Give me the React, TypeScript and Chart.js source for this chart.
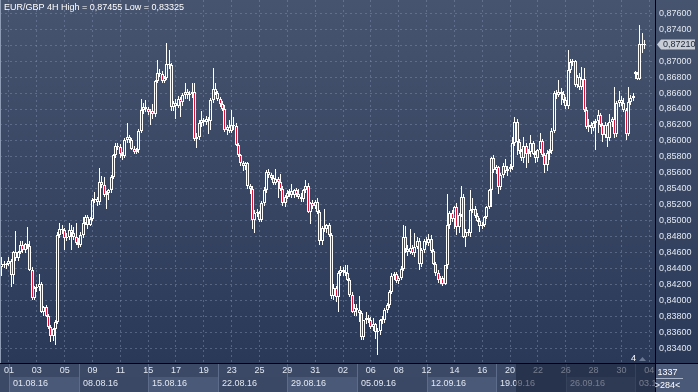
import React, { useEffect, useRef } from "react";
import { Chart, registerables } from "chart.js";

Chart.register(...registerables);

// ---- Candle data (EUR/GBP, 4H bars) ----
const opens = [
  0.8442, 0.8446, 0.8445, 0.8446, 0.8450, 0.8432, 0.8461, 0.8453, 0.8461, 0.8470,
  0.8463, 0.8471, 0.8468, 0.8438, 0.8403, 0.8416, 0.8417, 0.8420, 0.8386, 0.8392,
  0.8381, 0.8367, 0.8355, 0.8364, 0.8373, 0.8482, 0.8490, 0.8488, 0.8478, 0.8480,
  0.8488, 0.8485, 0.8479, 0.8472, 0.8469, 0.8482, 0.8497, 0.8504, 0.8495, 0.8502,
  0.8526, 0.8527, 0.8524, 0.8549, 0.8545, 0.8532, 0.8535, 0.8538, 0.8555, 0.8582,
  0.8594, 0.8592, 0.8583, 0.8581, 0.8601, 0.8605, 0.8601, 0.8590, 0.8586, 0.8589,
  0.8613, 0.8639, 0.8643, 0.8640, 0.8636, 0.8638, 0.8634, 0.8675, 0.8685, 0.8684,
  0.8675, 0.8679, 0.8697, 0.8695, 0.8643, 0.8647, 0.8644, 0.8652, 0.8649, 0.8658,
  0.8661, 0.8657, 0.8659, 0.8661, 0.8602, 0.8605, 0.8622, 0.8626, 0.8624, 0.8627,
  0.8625, 0.8651, 0.8665, 0.8660, 0.8652, 0.8646, 0.8640, 0.8614, 0.8618, 0.8613,
  0.8620, 0.8619, 0.8595, 0.8582, 0.8572, 0.8569, 0.8572, 0.8543, 0.8540, 0.8501,
  0.8510, 0.8509, 0.8501, 0.8522, 0.8538, 0.8561, 0.8557, 0.8553, 0.8547, 0.8552,
  0.8549, 0.8540, 0.8522, 0.8530, 0.8535, 0.8537, 0.8532, 0.8538, 0.8533, 0.8530,
  0.8527, 0.8538, 0.8544, 0.8511, 0.8522, 0.8518, 0.8524, 0.8511, 0.8474, 0.8491,
  0.8489, 0.8494, 0.8482, 0.8405, 0.8415, 0.8404, 0.8434, 0.8438, 0.8436, 0.8434,
  0.8426, 0.8407, 0.8386, 0.8391, 0.8388, 0.8384, 0.8354, 0.8375, 0.8378, 0.8376,
  0.8367, 0.8370, 0.8360, 0.8362, 0.8375, 0.8376, 0.8388, 0.8394, 0.8411, 0.8431,
  0.8433, 0.8424, 0.8428, 0.8440, 0.8480, 0.8465, 0.8461, 0.8466, 0.8460, 0.8467,
  0.8474, 0.8446, 0.8463, 0.8475, 0.8472, 0.8477, 0.8462, 0.8446, 0.8434, 0.8425,
  0.8428, 0.8421, 0.8444, 0.8494, 0.8510, 0.8502, 0.8517, 0.8492, 0.8507, 0.8530,
  0.8480, 0.8486, 0.8484, 0.8513, 0.8515, 0.8506, 0.8500, 0.8493, 0.8495, 0.8504,
  0.8517, 0.8538, 0.8578, 0.8563, 0.8567, 0.8542, 0.8557, 0.8569, 0.8562, 0.8565,
  0.8567, 0.8597, 0.8624, 0.8599, 0.8587, 0.8578, 0.8594, 0.8583, 0.8586, 0.8597,
  0.8584, 0.8578, 0.8588, 0.8600, 0.8582, 0.8570, 0.8585, 0.8587, 0.8613, 0.8660,
  0.8658, 0.8661, 0.8659, 0.8651, 0.8644, 0.8689, 0.8699, 0.8700, 0.8670, 0.8680,
  0.8667, 0.8678, 0.8639, 0.8618, 0.8620, 0.8616, 0.8622, 0.8625, 0.8632, 0.8620,
  0.8608, 0.8620, 0.8604, 0.8624, 0.8627, 0.8609, 0.8647, 0.8651, 0.8647, 0.8639,
  0.8609, 0.8649, 0.8654, 0.8686, 0.8684, 0.8678, 0.8722, 0.8720,
];

const highs = [
  0.8455, 0.8450, 0.8447, 0.8454, 0.8452, 0.8462, 0.8487, 0.8462, 0.8475, 0.8474,
  0.8472, 0.8492, 0.8474, 0.8442, 0.8418, 0.8420, 0.8433, 0.8423, 0.8393, 0.8394,
  0.8383, 0.8369, 0.8366, 0.8376, 0.8486, 0.8497, 0.8494, 0.8491, 0.8484, 0.8497,
  0.8494, 0.8492, 0.8497, 0.8478, 0.8486, 0.8505, 0.8507, 0.8507, 0.8504, 0.8528,
  0.8536, 0.8530, 0.8566, 0.8556, 0.8555, 0.8537, 0.8540, 0.8557, 0.8583, 0.8597,
  0.8598, 0.8596, 0.8586, 0.8604, 0.8622, 0.8607, 0.8604, 0.8593, 0.8591, 0.8615,
  0.8652, 0.8648, 0.8651, 0.8643, 0.8640, 0.8646, 0.8677, 0.8702, 0.8690, 0.8688,
  0.8681, 0.8723, 0.8714, 0.8698, 0.8650, 0.8652, 0.8656, 0.8655, 0.8660, 0.8672,
  0.8665, 0.8662, 0.8672, 0.8672, 0.8610, 0.8626, 0.8637, 0.8629, 0.8631, 0.8630,
  0.8654, 0.8691, 0.8672, 0.8663, 0.8655, 0.8650, 0.8645, 0.8620, 0.8626, 0.8639,
  0.8630, 0.8623, 0.8598, 0.8584, 0.8575, 0.8574, 0.8573, 0.8546, 0.8543, 0.8513,
  0.8514, 0.8512, 0.8525, 0.8542, 0.8563, 0.8565, 0.8560, 0.8557, 0.8565, 0.8555,
  0.8558, 0.8543, 0.8532, 0.8538, 0.8540, 0.8546, 0.8540, 0.8541, 0.8540, 0.8535,
  0.8540, 0.8551, 0.8547, 0.8524, 0.8526, 0.8526, 0.8528, 0.8513, 0.8493, 0.8514,
  0.8496, 0.8497, 0.8485, 0.8420, 0.8418, 0.8437, 0.8443, 0.8442, 0.8444, 0.8444,
  0.8428, 0.8410, 0.8396, 0.8395, 0.8405, 0.8387, 0.8376, 0.8386, 0.8382, 0.8379,
  0.8378, 0.8372, 0.8365, 0.8377, 0.8380, 0.8391, 0.8397, 0.8413, 0.8434, 0.8436,
  0.8436, 0.8430, 0.8443, 0.8494, 0.8493, 0.8470, 0.8489, 0.8469, 0.8485, 0.8480,
  0.8478, 0.8466, 0.8477, 0.8479, 0.8483, 0.8482, 0.8465, 0.8448, 0.8438, 0.8430,
  0.8431, 0.8445, 0.8534, 0.8512, 0.8513, 0.8519, 0.8522, 0.8510, 0.8543, 0.8533,
  0.8489, 0.8490, 0.8538, 0.8528, 0.8519, 0.8509, 0.8503, 0.8498, 0.8506, 0.8518,
  0.8540, 0.8580, 0.8582, 0.8570, 0.8569, 0.8560, 0.8572, 0.8577, 0.8568, 0.8571,
  0.8605, 0.8630, 0.8627, 0.8602, 0.8590, 0.8605, 0.8598, 0.8590, 0.8608, 0.8600,
  0.8587, 0.8590, 0.8610, 0.8603, 0.8585, 0.8588, 0.8590, 0.8616, 0.8662, 0.8664,
  0.8677, 0.8666, 0.8663, 0.8655, 0.8714, 0.8703, 0.8703, 0.8702, 0.8683, 0.8685,
  0.8693, 0.8691, 0.8642, 0.8627, 0.8624, 0.8625, 0.8628, 0.8639, 0.8635, 0.8623,
  0.8624, 0.8622, 0.8634, 0.8630, 0.8668, 0.8650, 0.8662, 0.8656, 0.8654, 0.8641,
  0.8668, 0.8657, 0.8660, 0.8688, 0.8686, 0.8745, 0.8735, 0.8726,
];

const lows = [
  0.8430, 0.8441, 0.8440, 0.8443, 0.8417, 0.8420, 0.8450, 0.8450, 0.8458, 0.8460,
  0.8460, 0.8464, 0.8437, 0.8400, 0.8400, 0.8410, 0.8412, 0.8384, 0.8381, 0.8379,
  0.8364, 0.8348, 0.8349, 0.8344, 0.8370, 0.8478, 0.8483, 0.8463, 0.8474, 0.8476,
  0.8463, 0.8476, 0.8470, 0.8466, 0.8467, 0.8478, 0.8494, 0.8490, 0.8493, 0.8500,
  0.8522, 0.8519, 0.8520, 0.8541, 0.8530, 0.8515, 0.8526, 0.8535, 0.8552, 0.8578,
  0.8588, 0.8578, 0.8576, 0.8579, 0.8598, 0.8598, 0.8589, 0.8584, 0.8583, 0.8585,
  0.8610, 0.8634, 0.8636, 0.8632, 0.8620, 0.8628, 0.8630, 0.8672, 0.8680, 0.8673,
  0.8672, 0.8676, 0.8690, 0.8638, 0.8638, 0.8628, 0.8641, 0.8630, 0.8644, 0.8652,
  0.8652, 0.8650, 0.8654, 0.8600, 0.8591, 0.8601, 0.8618, 0.8619, 0.8620, 0.8609,
  0.8614, 0.8647, 0.8657, 0.8650, 0.8643, 0.8638, 0.8611, 0.8608, 0.8610, 0.8610,
  0.8614, 0.8593, 0.8580, 0.8568, 0.8562, 0.8564, 0.8540, 0.8533, 0.8490, 0.8484,
  0.8505, 0.8498, 0.8498, 0.8518, 0.8535, 0.8553, 0.8551, 0.8545, 0.8545, 0.8528,
  0.8537, 0.8519, 0.8517, 0.8527, 0.8530, 0.8529, 0.8528, 0.8530, 0.8527, 0.8524,
  0.8524, 0.8535, 0.8510, 0.8496, 0.8515, 0.8514, 0.8508, 0.8470, 0.8470, 0.8486,
  0.8484, 0.8480, 0.8402, 0.8400, 0.8398, 0.8386, 0.8430, 0.8431, 0.8430, 0.8424,
  0.8404, 0.8384, 0.8380, 0.8381, 0.8373, 0.8350, 0.8350, 0.8370, 0.8372, 0.8364,
  0.8362, 0.8352, 0.8332, 0.8356, 0.8370, 0.8372, 0.8384, 0.8390, 0.8408, 0.8425,
  0.8422, 0.8420, 0.8425, 0.8437, 0.8460, 0.8456, 0.8458, 0.8457, 0.8455, 0.8464,
  0.8438, 0.8442, 0.8460, 0.8470, 0.8468, 0.8460, 0.8444, 0.8430, 0.8422, 0.8420,
  0.8418, 0.8419, 0.8440, 0.8490, 0.8498, 0.8490, 0.8482, 0.8484, 0.8505, 0.8478,
  0.8467, 0.8481, 0.8480, 0.8510, 0.8503, 0.8498, 0.8486, 0.8489, 0.8492, 0.8502,
  0.8515, 0.8517, 0.8560, 0.8558, 0.8534, 0.8538, 0.8554, 0.8560, 0.8556, 0.8561,
  0.8564, 0.8594, 0.8582, 0.8584, 0.8575, 0.8572, 0.8566, 0.8572, 0.8580, 0.8582,
  0.8572, 0.8574, 0.8585, 0.8580, 0.8560, 0.8562, 0.8576, 0.8583, 0.8610, 0.8652,
  0.8655, 0.8645, 0.8648, 0.8640, 0.8640, 0.8685, 0.8694, 0.8668, 0.8666, 0.8664,
  0.8664, 0.8636, 0.8615, 0.8611, 0.8609, 0.8612, 0.8588, 0.8610, 0.8618, 0.8599,
  0.8604, 0.8592, 0.8600, 0.8618, 0.8604, 0.8605, 0.8642, 0.8644, 0.8636, 0.8601,
  0.8606, 0.8645, 0.8650, 0.8678, 0.8676, 0.8676, 0.8710, 0.8715,
];

const closes = [
  0.8446, 0.8445, 0.8446, 0.8450, 0.8432, 0.8461, 0.8453, 0.8461, 0.8470, 0.8463,
  0.8471, 0.8468, 0.8438, 0.8403, 0.8416, 0.8417, 0.8420, 0.8386, 0.8392, 0.8381,
  0.8367, 0.8355, 0.8364, 0.8373, 0.8482, 0.8490, 0.8488, 0.8478, 0.8480, 0.8488,
  0.8485, 0.8479, 0.8472, 0.8469, 0.8482, 0.8497, 0.8504, 0.8495, 0.8502, 0.8526,
  0.8527, 0.8524, 0.8549, 0.8545, 0.8532, 0.8535, 0.8538, 0.8555, 0.8582, 0.8594,
  0.8592, 0.8583, 0.8581, 0.8601, 0.8605, 0.8601, 0.8590, 0.8586, 0.8589, 0.8613,
  0.8639, 0.8643, 0.8640, 0.8636, 0.8638, 0.8634, 0.8675, 0.8685, 0.8684, 0.8675,
  0.8679, 0.8697, 0.8695, 0.8643, 0.8647, 0.8644, 0.8652, 0.8649, 0.8658, 0.8661,
  0.8657, 0.8659, 0.8661, 0.8602, 0.8605, 0.8622, 0.8626, 0.8624, 0.8627, 0.8625,
  0.8651, 0.8665, 0.8660, 0.8652, 0.8646, 0.8640, 0.8614, 0.8618, 0.8613, 0.8620,
  0.8619, 0.8595, 0.8582, 0.8572, 0.8569, 0.8572, 0.8543, 0.8540, 0.8501, 0.8510,
  0.8509, 0.8501, 0.8522, 0.8538, 0.8561, 0.8557, 0.8553, 0.8547, 0.8552, 0.8549,
  0.8540, 0.8522, 0.8530, 0.8535, 0.8537, 0.8532, 0.8538, 0.8533, 0.8530, 0.8527,
  0.8538, 0.8544, 0.8511, 0.8522, 0.8518, 0.8524, 0.8511, 0.8474, 0.8491, 0.8489,
  0.8494, 0.8482, 0.8405, 0.8415, 0.8404, 0.8434, 0.8438, 0.8436, 0.8434, 0.8426,
  0.8407, 0.8386, 0.8391, 0.8388, 0.8384, 0.8354, 0.8375, 0.8378, 0.8376, 0.8367,
  0.8370, 0.8360, 0.8362, 0.8375, 0.8376, 0.8388, 0.8394, 0.8411, 0.8431, 0.8433,
  0.8424, 0.8428, 0.8440, 0.8480, 0.8465, 0.8461, 0.8466, 0.8460, 0.8467, 0.8474,
  0.8446, 0.8463, 0.8475, 0.8472, 0.8477, 0.8462, 0.8446, 0.8434, 0.8425, 0.8428,
  0.8421, 0.8444, 0.8494, 0.8510, 0.8502, 0.8517, 0.8492, 0.8507, 0.8530, 0.8480,
  0.8486, 0.8484, 0.8513, 0.8515, 0.8506, 0.8500, 0.8493, 0.8495, 0.8504, 0.8517,
  0.8538, 0.8578, 0.8563, 0.8567, 0.8542, 0.8557, 0.8569, 0.8562, 0.8565, 0.8567,
  0.8597, 0.8624, 0.8599, 0.8587, 0.8578, 0.8594, 0.8583, 0.8586, 0.8597, 0.8584,
  0.8578, 0.8588, 0.8600, 0.8582, 0.8570, 0.8585, 0.8587, 0.8613, 0.8660, 0.8658,
  0.8661, 0.8659, 0.8651, 0.8644, 0.8689, 0.8699, 0.8700, 0.8670, 0.8680, 0.8667,
  0.8678, 0.8639, 0.8618, 0.8620, 0.8616, 0.8622, 0.8625, 0.8632, 0.8620, 0.8608,
  0.8620, 0.8604, 0.8624, 0.8627, 0.8609, 0.8647, 0.8651, 0.8647, 0.8639, 0.8609,
  0.8649, 0.8654, 0.8656, 0.8684, 0.8678, 0.8722, 0.8720, 0.8721,
];

// ---- Axis labels ----
const dayTickBars = [3, 15, 27, 39, 51, 63, 75, 87, 99, 111, 123, 135, 147, 159, 171, 183, 195, 207, 219, 231, 243, 255, 267, 279];
const dayLabels = ["01", "03", "05", "09", "11", "15", "17", "19", "23", "25", "29", "31", "02", "06", "08", "12", "14", "16", "20", "22", "26", "28", "30", "04"];
const weekStartBars = [3, 33, 63, 93, 123, 153, 183, 213, 243, 273];
const weekLabels = ["01.08.16", "08.08.16", "15.08.16", "22.08.16", "29.08.16", "05.09.16", "12.09.16", "19.09.16", "26.09.16", "03.10.16"];
const priceTicks = [0.834, 0.836, 0.838, 0.84, 0.842, 0.844, 0.846, 0.848, 0.85, 0.852, 0.854, 0.856, 0.858, 0.86, 0.862, 0.864, 0.866, 0.868, 0.87, 0.872, 0.874, 0.876];

const titleText = "EUR/GBP 4H High = 0,87455 Low = 0,83325";
const lastPrice = 0.8721;
const infoTop = "1337";
const infoBottom = ">284<";
const markerText = "4";
const markerBar = 271.3;
const dimFromBar = 221.5;

const W = 698;
const H = 392;
const FONT = '"Liberation Sans", Arial, sans-serif';
const RED = "#dc1437";
const WHITE = "#ffffff";
const GRID = "rgba(125,140,172,0.5)";
const TXT = "#e2e8f1";

const fmt = (v: number) => v.toFixed(5).replace(".", ",");

export default function App() {
  const ref = useRef<HTMLCanvasElement | null>(null);

  useEffect(() => {
    document.body.style.margin = "0";
    const canvas = ref.current;
    if (!canvas) return;

    const idx = closes.map((_, i) => i);
    const upperWick = idx.map((i) => ({ x: i, y: [Math.max(opens[i], closes[i]), highs[i]] }));
    const lowerWick = idx.map((i) => ({ x: i, y: [lows[i], Math.min(opens[i], closes[i])] }));
    const bodies = idx.map((i) => ({ x: i, y: [opens[i], closes[i]] }));
    const bodyFill = idx.map((i) => (closes[i] >= opens[i] ? "rgba(0,0,0,0)" : RED));

    const pixelSnap = {
      id: "pixelSnap",
      beforeDatasetsDraw(chart: any) {
        chart.data.datasets.forEach((_: any, di: number) => {
          const meta = chart.getDatasetMeta(di);
          const w = di === 2 ? 3 : 1;
          meta.data.forEach((el: any) => {
            el.x = Math.floor(el.x) + 0.5;
            el.width = w;
            let a = Math.round(el.y);
            const b = Math.round(el.base);
            if (di === 2 && a === b) a = b - 1;
            el.y = a;
            el.base = b;
          });
        });
      },
    };

    const backdrop = {
      id: "backdrop",
      beforeDraw(chart: any) {
        const { ctx, chartArea: a } = chart;
        const xs = chart.scales.x;
        ctx.save();
        const g = ctx.createLinearGradient(0, 0, 0, a.bottom);
        g.addColorStop(0, "#46546f");
        g.addColorStop(1, "#2b3959");
        ctx.fillStyle = g;
        ctx.fillRect(0, 0, W, a.bottom);
        // x-axis strip
        ctx.fillStyle = "#3b4967";
        ctx.fillRect(0, a.bottom, a.right, H - a.bottom);
        const rowY = a.bottom + 14;
        weekStartBars.forEach((b, k) => {
          const x0 = Math.round(xs.getPixelForValue(b));
          const x1 = k + 1 < weekStartBars.length ? Math.round(xs.getPixelForValue(weekStartBars[k + 1])) : a.right;
          ctx.fillStyle = k % 2 === 0 ? "#4b5978" : "#3a4866";
          ctx.fillRect(x0, rowY, Math.min(x1, a.right) - x0, H - rowY);
          ctx.fillStyle = "#5e6c8b";
          ctx.fillRect(x0, a.bottom + 1, 1, H - a.bottom - 1);
        });
        // info box
        ctx.fillStyle = "#4b5979";
        ctx.fillRect(a.right, a.bottom, W - a.right, H - a.bottom);
        ctx.restore();
      },
    };

    const overlay = {
      id: "overlay",
      afterDraw(chart: any) {
        const { ctx, chartArea: a } = chart;
        const xs = chart.scales.x;
        const ys = chart.scales.y;
        ctx.save();
        // week labels
        ctx.beginPath();
        ctx.rect(0, a.bottom, a.right, H - a.bottom);
        ctx.clip();
        ctx.font = `9px ${FONT}`;
        ctx.fillStyle = TXT;
        ctx.textBaseline = "alphabetic";
        ctx.textAlign = "left";
        weekStartBars.forEach((b, k) => {
          ctx.fillText(weekLabels[k], Math.round(xs.getPixelForValue(b)) + 4, 386);
        });
        // dimmed right part of the time strip
        const dx = Math.round(xs.getPixelForValue(dimFromBar));
        ctx.fillStyle = "rgba(24,33,54,0.55)";
        ctx.fillRect(dx, a.bottom + 1, a.right - dx, H - a.bottom - 1);
        ctx.restore();

        ctx.save();
        // separators
        ctx.fillStyle = "#000000";
        ctx.fillRect(a.right, 0, 1, H);
        ctx.fillRect(0, a.bottom, W, 1);
        ctx.fillStyle = "#8f9cb6";
        ctx.fillRect(0, 0, 1, a.bottom);

        // title
        ctx.font = `9px ${FONT}`;
        ctx.fillStyle = WHITE;
        ctx.textAlign = "left";
        ctx.textBaseline = "alphabetic";
        ctx.fillText(titleText, 4, 10);

        // marker
        const mx = Math.round(xs.getPixelForValue(markerBar));
        ctx.fillText(markerText, mx, 361);
        ctx.fillStyle = "#6b7893";
        ctx.beginPath();
        ctx.moveTo(mx + 8, 361);
        ctx.lineTo(mx + 11.5, 357);
        ctx.lineTo(mx + 15, 361);
        ctx.closePath();
        ctx.fill();

        // current price tag
        const py = Math.round(ys.getPixelForValue(lastPrice)) + 0.5;
        ctx.fillStyle = "#c9ced6";
        ctx.beginPath();
        ctx.moveTo(a.right + 2, py);
        ctx.lineTo(a.right + 6, py - 5);
        ctx.lineTo(W - 3, py - 5);
        ctx.lineTo(W - 3, py + 5);
        ctx.lineTo(a.right + 6, py + 5);
        ctx.closePath();
        ctx.fill();
        ctx.fillStyle = "#1c2638";
        ctx.textBaseline = "middle";
        ctx.fillText(fmt(lastPrice), a.right + 8, py);

        // info box texts
        ctx.fillStyle = WHITE;
        ctx.textAlign = "center";
        ctx.textBaseline = "alphabetic";
        ctx.fillText(infoTop, a.right + 12.5, 375);
        ctx.fillText(infoBottom, a.right + 12.5, 388);
        ctx.fillStyle = "#aab4c8";
        ctx.fillRect(a.right + 1, 378, 27, 1);
        ctx.restore();
      },
    };

    const chart = new Chart(canvas, {
      type: "bar",
      data: {
        datasets: [
          {
            label: "upper wick",
            data: upperWick as any,
            backgroundColor: WHITE,
            borderWidth: 0,
            grouped: false,
            maxBarThickness: 1,
            inflateAmount: 0,
          } as any,
          {
            label: "lower wick",
            data: lowerWick as any,
            backgroundColor: WHITE,
            borderWidth: 0,
            grouped: false,
            maxBarThickness: 1,
            inflateAmount: 0,
          } as any,
          {
            label: "body",
            data: bodies as any,
            backgroundColor: bodyFill,
            borderColor: WHITE,
            borderWidth: 1,
            borderSkipped: false,
            grouped: false,
            barPercentage: 1.3,
            categoryPercentage: 1,
            maxBarThickness: 3,
            minBarLength: 1,
            inflateAmount: 0,
          } as any,
        ],
      },
      options: {
        responsive: false,
        animation: false,
        devicePixelRatio: 1,
        events: [],
        layout: { padding: 0 },
        plugins: { legend: { display: false }, tooltip: { enabled: false }, title: { display: false } },
        scales: {
          x: {
            type: "linear",
            position: "bottom",
            min: -0.862,
            max: 281.47,
            offset: false,
            afterBuildTicks: (s: any) => {
              s.ticks = dayTickBars.map((v) => ({ value: v }));
            },
            afterFit: (s: any) => {
              s.height = 29;
              s.paddingLeft = 0;
              s.paddingRight = 0;
            },
            ticks: {
              autoSkip: false,
              maxRotation: 0,
              minRotation: 0,
              padding: 2,
              color: TXT,
              font: { family: FONT, size: 9 },
              callback: (_v: any, i: number) => dayLabels[i],
            },
            grid: { color: GRID, lineWidth: 1, drawTicks: false, offset: false },
            border: { display: false, dash: [2, 3] },
          } as any,
          y: {
            type: "linear",
            position: "right",
            min: 0.83215,
            max: 0.87767,
            beginAtZero: false,
            afterBuildTicks: (s: any) => {
              s.ticks = priceTicks.map((v) => ({ value: v }));
            },
            afterFit: (s: any) => {
              s.width = 43;
              s.paddingTop = 0;
              s.paddingBottom = 0;
            },
            ticks: {
              padding: 4,
              color: TXT,
              font: { family: FONT, size: 9 },
              callback: (v: any) => fmt(Number(v)),
            },
            grid: { color: GRID, lineWidth: 1, drawTicks: false },
            border: { display: false, dash: [2, 3] },
          } as any,
        },
      },
      plugins: [backdrop, pixelSnap, overlay],
    });

    return () => chart.destroy();
  }, []);

  return <canvas ref={ref} width={W} height={H} style={{ display: "block", width: W, height: H }} />;
}
